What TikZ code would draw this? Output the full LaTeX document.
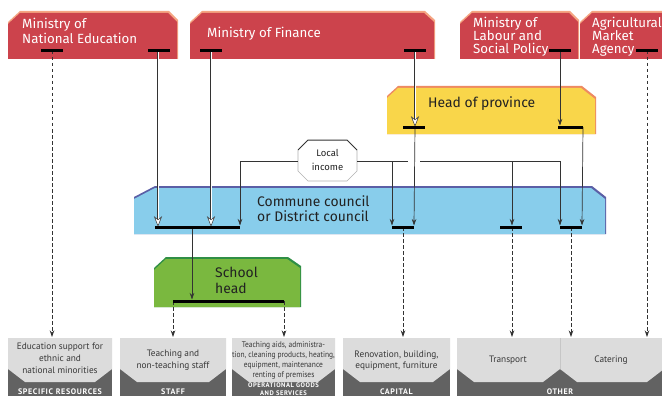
\documentclass[tikz,border=0pt]{standalone}
\usepackage{fontspec}
\setmainfont{PT Sans}
\newfontfamily\headfont{Fira Sans}
\newfontfamily\narrowfont[FakeStretch=0.9]{PT Sans}
\newfontfamily\lblfont[LetterSpace=8]{PT Sans}
\usetikzlibrary{arrows.meta}
\definecolor{minred}{HTML}{CC434C}
\definecolor{minedge}{HTML}{F5A582}
\definecolor{provyel}{HTML}{F9D64A}
\definecolor{provedge}{HTML}{EE8A62}
\definecolor{comblue}{HTML}{88CDEB}
\definecolor{comedge}{HTML}{5B5FA6}
\definecolor{schgreen}{HTML}{7AB83F}
\definecolor{schedge}{HTML}{2F8F45}
\definecolor{boxlight}{HTML}{DCDCDC}
\definecolor{boxdark}{HTML}{626262}
\definecolor{linegray}{HTML}{333333}
\definecolor{txtdark}{HTML}{222222}
\newcommand\mybotbox[2]{%
  \fill[boxdark] (#1,338) rectangle (#2,400);
  \fill[boxlight] (#1,338) -- (#2,338) -- (#2,369) -- ({#2-17},382) -- ({#1+17},382) -- (#1,369) -- cycle;}
\newcommand\whitearrow[2]{%
  \draw[linegray, line width=2.4pt] (#1) -- ([yshift=6pt]#2);
  \draw[white, line width=1.0pt] (#1) -- ([yshift=5pt]#2);
  \filldraw[draw=linegray, fill=white, line width=0.5pt, line join=miter]
    ([yshift=1pt]#2) -- ++(-3.5,-9) -- ++(3.5,2.8) -- ++(3.5,-2.8) -- cycle;}
\tikzset{
  arr/.style={draw=linegray, line width=0.7pt, -{Stealth[length=6.5pt,width=4.5pt]}},
  darr/.style={arr, dash pattern=on 3.5pt off 2.5pt},
  barline/.style={draw=black, line width=3pt},
  wtxt/.style={anchor=base west, inner sep=0pt, text=white, font=\headfont\fontsize{13.3}{15}\selectfont},
  dtxt/.style={anchor=base west, inner sep=0pt, text=txtdark, font=\headfont\fontsize{13.9}{15}\selectfont},
  btxt/.style={anchor=base, inner sep=0pt, text=txtdark!90, font=\fontsize{9.3}{10}\selectfont},
  ntxt/.style={anchor=base, inner sep=0pt, text=txtdark!90, font=\narrowfont\fontsize{8.3}{10}\selectfont},
  ltxt/.style={anchor=base, inner sep=0pt, text=white, font=\lblfont\bfseries\fontsize{8}{9}\selectfont},
}
\begin{document}
\begin{tikzpicture}[x=1pt,y=-1pt]
\useasboundingbox (0,0) rectangle (662,396);
\fill[white] (0,0) rectangle (662,396);
% ---------- ministries ----------
\fill[minedge] (8,22) -- (20,11) -- (169,11) -- (178,20) -- (178,59) -- (8,59) -- cycle;
\fill[minred] (8,24) -- (20,13) -- (168,13) -- (177,22) -- (177,59) -- (8,59) -- cycle;
\node[wtxt] (ne1) at (22,29) {Ministry of};
\node[wtxt] (ne2) at (22,43.5) {National Education};

\fill[minedge] (190,22) -- (202,11) -- (425,11) -- (435,20) -- (435,59) -- (190,59) -- cycle;
\fill[minred] (190,24) -- (202,13) -- (424,13) -- (434,22) -- (434,59) -- (190,59) -- cycle;
\node[wtxt] (fin) at (207,37.5) {Ministry of Finance};

\fill[minedge] (460,22) -- (472,11) -- (570,11) -- (579,20) -- (579,59) -- (460,59) -- cycle;
\fill[minred] (460,24) -- (472,13) -- (569,13) -- (578,22) -- (578,59) -- (460,59) -- cycle;
\node[wtxt] (lab1) at (473,27.5) {Ministry of};
\node[wtxt] (lab2) at (473,40.5) {Labour and};
\node[wtxt] (lab3) at (473,53.5) {Social Policy};

\fill[minedge] (580,22) -- (592,11) -- (700,11) -- (700,59) -- (580,59) -- cycle;
\fill[minred] (580,24) -- (592,13) -- (700,13) -- (700,59) -- (580,59) -- cycle;
\node[wtxt] (agr1) at (592,27.5) {Agricultural};
\node[wtxt] (agr2) at (592,40.5) {Market};
\node[wtxt] (agr3) at (592,53.5) {Agency};

% ---------- head of province ----------
\fill[provedge] (387,96) -- (398,86) -- (582,86) -- (596,97) -- (596,134) -- (387,134) -- cycle;
\fill[provyel] (387,98) -- (398,88) -- (581,88) -- (595,99) -- (595,134) -- (387,134) -- cycle;
\node[dtxt] (hp) at (428,107.5) {Head of province};

% ---------- commune council ----------
\fill[comedge] (134,197) -- (155,186) -- (592,186) -- (606,197) -- (606,234) -- (134,234) -- cycle;
\fill[comblue] (134,199) -- (155,188) -- (591,188) -- (605,199) -- (605,234) -- (134,234) -- cycle;
\node[dtxt] (cc1) at (257,206) {Commune council};
\node[dtxt] (cc2) at (257,221) {or District council};

% ---------- school head ----------
\fill[schedge] (154,268) -- (166,257) -- (288,257) -- (301,266) -- (301,307) -- (154,307) -- cycle;
\fill[schgreen] (154,270) -- (166,259) -- (287,259) -- (300,268) -- (300,307) -- (154,307) -- cycle;
\node[dtxt] (sh1) at (215,277.5) {School};
\node[dtxt] (sh2) at (215,293) {head};

% ---------- local income ----------
\fill[white] (308,140) -- (347,140) -- (357,150) -- (357,171) -- (347,181) -- (308,181) -- (298,171) -- (298,150) -- cycle;
\draw[gray!60, line width=0.6pt] (357,150) -- (357,171) -- (347,181) -- (308,181) -- (298,171) -- (298,150);
\draw[gray!40!black, line width=1pt] (298,150) -- (308,140) -- (347,140) -- (357,150);
\node[anchor=base, inner sep=0pt, text=txtdark, font=\headfont\fontsize{9.5}{11}\selectfont] (li1) at (327.5,157) {Local};
\node[anchor=base, inner sep=0pt, text=txtdark, font=\headfont\fontsize{9.5}{11}\selectfont] (li2) at (327.5,170) {income};
\coordinate (locW) at (298,161);
\coordinate (locE) at (357,161);

% ---------- bottom boxes ----------
\mybotbox{8}{112}
\mybotbox{120}{226}
\mybotbox{232}{335}
\mybotbox{343}{450}
\fill[boxdark] (457,338) rectangle (700,400);
\fill[boxlight] (457,338) -- (560,338) -- (560,369) -- (543,382) -- (474,382) -- (457,369) -- cycle;
\fill[boxlight] (560,338) -- (664,338) -- (664,369) -- (647,382) -- (577,382) -- (560,369) -- cycle;
\draw[gray!45, line width=0.5pt] (560,338) -- (560,369);

\node[btxt] (b1a) at (60,349) {Education support for};
\node[btxt] (b1b) at (60,361) {ethnic and};
\node[btxt] (b1c) at (60,373) {national minorities};
\node[btxt] (b2a) at (173,356) {Teaching and};
\node[btxt] (b2b) at (173,368) {non-teaching staff};
\node[ntxt] (b3a) at (283.5,347) {Teaching aids, administra-};
\node[ntxt] (b3b) at (283.5,357) {tion, cleaning products, heating,};
\node[ntxt] (b3c) at (283.5,367) {equipment, maintenance};
\node[ntxt] (b3d) at (283.5,377) {renting of premises};
\node[btxt] (b4a) at (396.5,357) {Renovation, building,};
\node[btxt] (b4b) at (396.5,368) {equipment, furniture};
\node[btxt] (b5) at (508,362) {Transport};
\node[btxt] (b6) at (611,362) {Catering};

\node[ltxt] (l1) at (60,394) {SPECIFIC RESOURCES};
\node[ltxt] (l2) at (173,394) {STAFF};
\node[ltxt, font=\lblfont\bfseries\fontsize{6.6}{8}\selectfont] (l3a) at (283.5,387.5) {OPERATIONAL GOODS};
\node[ltxt, font=\lblfont\bfseries\fontsize{6.6}{8}\selectfont] (l3b) at (283.5,395) {AND SERVICES};
\node[ltxt] (l4) at (396.5,394) {CAPITAL};
\node[ltxt] (l5) at (560,394) {OTHER};

% ---------- coordinates ----------
\coordinate (neA) at (52,51);   \coordinate (neB) at (158,51);
\coordinate (finA) at (211,51); \coordinate (finB) at (415,51);
\coordinate (labA) at (560,51); \coordinate (agrA) at (647,51);
\coordinate (hpA) at (415,127); \coordinate (hpB) at (560,127); \coordinate (hpBr) at (583,127);
\coordinate (ccA1) at (158,227); \coordinate (ccA2) at (211,227); \coordinate (ccA3) at (240,227); \coordinate (ccAm) at (192,227);
\coordinate (ccB1) at (392,227); \coordinate (ccB2) at (414,227); \coordinate (ccBm) at (403,227);
\coordinate (ccC) at (512,227);
\coordinate (ccD1) at (560,227); \coordinate (ccD2) at (582,227); \coordinate (ccDm) at (571,227);
\coordinate (shm) at (192,301); \coordinate (shA) at (173,301); \coordinate (shB) at (284,301);
\coordinate (gapL) at (408,161); \coordinate (gapR) at (420,161);
\coordinate (bxA) at (52,337); \coordinate (bxB) at (173,337); \coordinate (bxC) at (284,337);
\coordinate (bxD) at (403,337); \coordinate (bxE) at (512,337); \coordinate (bxF) at (571,337);
\coordinate (bxG) at (647,337);

% ---------- connectors ----------
\draw[arr] (labA) -- ([yshift=1.5pt]hpB);
\draw[arr] (hpA) -- ([yshift=1.5pt]ccB2);
\draw[arr] (hpBr) -- ([yshift=1.5pt]ccD2);
\draw[arr] (locW) -| ([yshift=1.5pt]ccA3);
\draw[linegray, line width=0.7pt] (locE) -- (gapL);
\draw[arr] (gapR) -| ([yshift=1.5pt]ccD1);
\draw[arr] (ccB1 |- locE) -- ([yshift=1.5pt]ccB1);
\draw[arr] (ccC |- locE) -- ([yshift=1.5pt]ccC);
\draw[arr] (ccAm) -- ([yshift=1.5pt]shm);

\draw[darr] (neA) -- (bxA);
\draw[darr] (agrA) -- (bxG);
\draw[darr] (shA) -- (bxB);
\draw[darr] (shB) -- (bxC);
\draw[darr] (ccBm) -- (bxD);
\draw[darr] (ccC) -- (bxE);
\draw[darr] (ccDm) -- (bxF);

\whitearrow{neB}{ccA1}
\whitearrow{finA}{ccA2}
\whitearrow{finB}{hpA}

% ---------- bars ----------
\draw[barline] (41,51) -- (63,51);
\draw[barline] (148,51) -- (170,51);
\draw[barline] (200,51) -- (222,51);
\draw[barline] (404,51) -- (426,51);
\draw[barline] (549,51) -- (571,51);
\draw[barline] (636,51) -- (658,51);
\draw[barline] (403,127) -- (425,127);
\draw[barline] (558,127) -- (583,127);
\draw[barline] (155,227) -- (240,227);
\draw[barline] (392,227) -- (414,227);
\draw[barline] (500,227) -- (522,227);
\draw[barline] (560,227) -- (582,227);
\draw[barline] (173,301) -- (284,301);
\end{tikzpicture}
\end{document}
